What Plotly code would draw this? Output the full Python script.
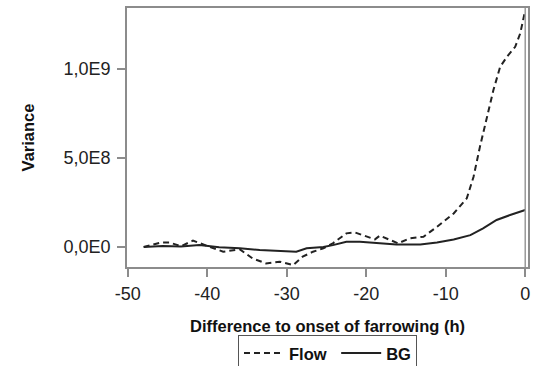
import plotly.graph_objects as go

flow_x = [-48.0, -45.8, -44.8, -43.3, -41.8, -39.9, -38.0, -35.9, -34.3, -32.6, -30.9, -29.2,
          -28.0, -26.7, -25.4, -24.2, -22.5, -21.4, -20.0, -18.9, -18.3, -17.0, -16.0, -14.5,
          -12.8, -11.1, -9.0, -7.35, -6.5, -5.7, -4.8, -4.0, -3.15, -2.3, -1.26, -0.63, 0.0]
flow_y = [0.0, 0.26e8, 0.26e8, 0.05e8, 0.36e8, 0.05e8, -0.26e8, -0.13e8, -0.64e8, -0.92e8, -0.82e8, -1.01e8,
          -0.54e8, -0.26e8, -0.07e8, 0.21e8, 0.77e8, 0.82e8, 0.58e8, 0.43e8, 0.64e8, 0.39e8, 0.21e8, 0.49e8,
          0.58e8, 1.14e8, 1.89e8, 2.74e8, 3.95e8, 5.63e8, 7.32e8, 8.82e8, 1.013e9, 1.069e9, 1.125e9, 1.20e9, 1.33e9]

bg_x = [-48.0, -45.6, -43.3, -41.0, -38.5, -35.9, -33.4, -30.9, -28.8, -27.5, -25.4, -24.2,
        -22.5, -20.8, -18.7, -16.2, -13.2, -11.1, -9.0, -6.9, -5.3, -3.6, -1.9, 0.0]
bg_y = [0.0, 0.06e8, 0.03e8, 0.11e8, -0.01e8, -0.07e8, -0.17e8, -0.22e8, -0.26e8, -0.07e8, 0.0, 0.11e8,
        0.30e8, 0.30e8, 0.24e8, 0.15e8, 0.15e8, 0.26e8, 0.43e8, 0.67e8, 1.05e8, 1.52e8, 1.80e8, 2.08e8]

x_ticks = [-50, -40, -30, -20, -10, 0]
y_ticks = [0, 5e8, 1e9]
y_ticktext = ["0,0E0", "5,0E8", "1,0E9"]

FONT = "Liberation Sans, Arial"

fig = go.Figure()
fig.add_trace(go.Scatter(x=flow_x, y=flow_y, mode="lines", name="<b>Flow </b>",
                         line=dict(color="#222222", width=2, dash="6px,4px")))
fig.add_trace(go.Scatter(x=bg_x, y=bg_y, mode="lines", name="<b>BG</b>",
                         line=dict(color="#222222", width=2)))

fig.add_vline(x=0, line=dict(color="#999999", width=1.5))

axis_common = dict(showgrid=False, zeroline=False, showline=True, linecolor="#8c8c8c",
                   linewidth=1.5, mirror=True, ticks="outside", ticklen=8, tickcolor="#8c8c8c",
                   tickwidth=1.5, automargin=False,
                   tickfont=dict(family=FONT, size=18, color="#222222"))

fig.update_xaxes(range=[-50.1, 0.35], tickvals=x_ticks, ticktext=[str(v) for v in x_ticks],
                 ticklabelstandoff=2,
                 title=dict(text="<b>Difference to onset of farrowing (h)</b>",
                            font=dict(family=FONT, size=16.5, color="#111111"),
                            standoff=17),
                 **axis_common)
fig.update_yaxes(range=[-1.12e8, 1.343e9], tickvals=y_ticks, ticktext=y_ticktext,
                 ticklabelstandoff=3,
                 title=dict(text="<b>Variance</b>",
                            font=dict(family=FONT, size=16.5, color="#111111"),
                            standoff=25),
                 **axis_common)

fig.update_layout(
    width=534, height=366,
    margin=dict(l=127, r=6, t=8, b=99, autoexpand=False),
    plot_bgcolor="white", paper_bgcolor="white",
    legend=dict(orientation="h", x=0.5, xanchor="center", y=-0.262, yanchor="top",
                bordercolor="#555555", borderwidth=1,
                font=dict(family=FONT, size=16.5, color="#111111"),
                itemwidth=40, tracegroupgap=0),
)

fig.write_html("out.html", config={"displayModeBar": False},
               post_script="document.body.style.margin='0';")
